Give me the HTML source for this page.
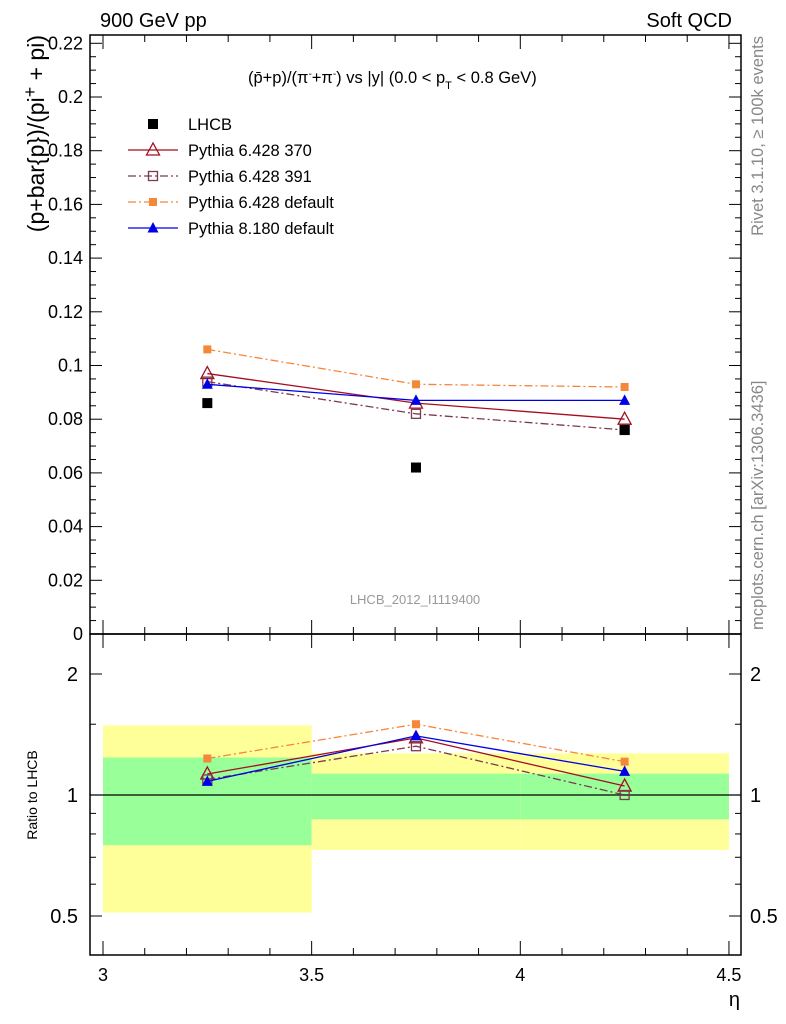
<!DOCTYPE html>
<html><head><meta charset="utf-8"><style>
body{margin:0;background:#fff;}
svg{display:block;font-family:"Liberation Sans",sans-serif;}
</style></head><body>
<svg id="c" width="786" height="1024" viewBox="0 0 786 1024" xmlns="http://www.w3.org/2000/svg"></svg>
<script>
const xVals=[3.25,3.75,4.25];
const lhcb=[0.086,0.062,0.076];
const p370=[0.097,0.086,0.080];
const p391=[0.094,0.082,0.076];
const pdef=[0.106,0.093,0.092];
const p8=[0.093,0.087,0.087];
const bandBins=[3,3.5,4,4.5];
const bandYellowLo=[0.51,0.73,0.73];
const bandYellowHi=[1.49,1.27,1.27];
const bandGreenLo=[0.75,0.87,0.87];
const bandGreenHi=[1.24,1.13,1.13];
const mainYTicks=[0,0.02,0.04,0.06,0.08,0.1,0.12,0.14,0.16,0.18,0.2,0.22];
const mainYLabels=["0","0.02","0.04","0.06","0.08","0.1","0.12","0.14","0.16","0.18","0.2","0.22"];
const xTicks=[3,3.5,4,4.5];
const xLabels=["3","3.5","4","4.5"];
const ratioTicks=[0.5,1,2];
const ratioLabels=["0.5","1","2"];

const NS="http://www.w3.org/2000/svg";
const svg=document.getElementById('c');
const L=90,R=741,T=35,MB=634,RB=955;
const X=v=>103+(v-3)*417.3;
const Y=v=>634-v*2685;
const YR=v=>795-Math.log2(v)*121;
function el(t,a,p){const e=document.createElementNS(NS,t);for(const k in a)e.setAttribute(k,a[k]);(p||svg).appendChild(e);return e;}
function txt(x,y,s,a,p){const e=el('text',Object.assign({x:x,y:y,'font-size':18,fill:'#000'},a||{}),p);e.textContent=s;return e;}

for(let i=0;i<3;i++){
 const x0=X(bandBins[i]),x1=X(bandBins[i+1]);
 const y=el('rect',{x:x0,y:YR(bandYellowHi[i]),width:x1-x0,height:YR(bandYellowLo[i])-YR(bandYellowHi[i]),fill:'#ffff99'});
 
 
 const g=el('rect',{x:x0,y:YR(bandGreenHi[i]),width:x1-x0,height:YR(bandGreenLo[i])-YR(bandGreenHi[i]),fill:'#99ff99'});
 
 
}
el('line',{x1:L,x2:R,y1:YR(1),y2:YR(1),stroke:'#000','stroke-width':1.2});

const f1=el('rect',{x:L,y:T,width:R-L,height:MB-T,fill:'none',stroke:'#000','stroke-width':1.5});

const f2=el('rect',{x:L,y:MB,width:R-L,height:RB-MB,fill:'none',stroke:'#000','stroke-width':1.5});


mainYTicks.forEach((v,i)=>{
 const y=Y(v);
 el('line',{x1:L,x2:L+12,y1:y,y2:y,stroke:'#000'});
 el('line',{x1:R,x2:R-12,y1:y,y2:y,stroke:'#000'});
 if(i<mainYTicks.length-1)for(let k=1;k<4;k++){const ym=Y(v+0.005*k);el('line',{x1:L,x2:L+6,y1:ym,y2:ym,stroke:'#000'});el('line',{x1:R,x2:R-6,y1:ym,y2:ym,stroke:'#000'});}
 const t=txt(83,y+6,mainYLabels[i],{'text-anchor':'end'});
 
});
for(let v=3;v<=4.501;v+=0.1){const x=X(v);const maj=Math.abs(v*2-Math.round(v*2))<1e-6;const l=maj?14:7;
 el('line',{x1:x,x2:x,y1:MB,y2:MB-l,stroke:'#000'});el('line',{x1:x,x2:x,y1:T,y2:T+l,stroke:'#000'});
 el('line',{x1:x,x2:x,y1:RB,y2:RB-l,stroke:'#000'});el('line',{x1:x,x2:x,y1:MB,y2:MB+l,stroke:'#000'});}
xTicks.forEach((v,i)=>{const t=txt(X(v),981,xLabels[i],{'text-anchor':'middle'});});
ratioTicks.forEach((v,i)=>{const y=YR(v);
 el('line',{x1:L,x2:L+12,y1:y,y2:y,stroke:'#000'});el('line',{x1:R,x2:R-12,y1:y,y2:y,stroke:'#000'});
 const t=txt(78,y+7,ratioLabels[i],{'text-anchor':'end','font-size':20});
 const t2=txt(750,y+7,ratioLabels[i],{'font-size':20});
});
[0.6,0.7,0.8,0.9,1.5].forEach(v=>{const y=YR(v);el('line',{x1:L,x2:L+6,y1:y,y2:y,stroke:'#000'});el('line',{x1:R,x2:R-6,y1:y,y2:y,stroke:'#000'});});

let t;
t=txt(100,27,'900 GeV pp',{'font-size':20});
t=txt(732,27,'Soft QCD',{'font-size':20,'text-anchor':'end'});
t=txt(740,1006,'η',{'font-size':20,'text-anchor':'end'});
t=el('text',{x:0,y:0,'font-size':23,fill:'#000',transform:'translate(44,35) rotate(-90)','text-anchor':'end'});

t.innerHTML='(p+bar{p})/(pi<tspan dy="-8" font-size="18">+</tspan><tspan dy="8"> + pi)</tspan>';
t=txt(0,0,'Ratio to LHCB',{'font-size':14,transform:'translate(37,795) rotate(-90)','text-anchor':'middle'});
t=txt(0,0,'Rivet 3.1.10, ≥ 100k events',{'font-size':16.5,fill:'#888',transform:'translate(763,36) rotate(-90)','text-anchor':'end'});
t=txt(0,0,'mcplots.cern.ch [arXiv:1306.3436]',{'font-size':16.5,fill:'#888',transform:'translate(763,630) rotate(-90)'});
t=txt(415,604,'LHCB_2012_I1119400',{'font-size':13,fill:'#999','text-anchor':'middle'});
t=el('text',{x:248,y:83,'font-size':16.5,fill:'#000'});
t.innerHTML='(p̄+p)/(π<tspan dy="-6" font-size="10">-</tspan><tspan dy="6">+π</tspan><tspan dy="-6" font-size="10">-</tspan><tspan dy="6">) vs |y| (0.0 &lt; p</tspan><tspan dy="6" font-size="11">T</tspan><tspan dy="-6"> &lt; 0.8 GeV)</tspan>';

function marker(kind,x,y,c,g){
 if(kind==='sq')return el('rect',{x:x-5,y:y-5,width:10,height:10,fill:c},g);
 if(kind==='osq')return el('rect',{x:x-4.5,y:y-4.5,width:9,height:9,fill:'none',stroke:c,'stroke-width':1.3},g);
 if(kind==='sqs')return el('rect',{x:x-4,y:y-4,width:8,height:8,fill:c},g);
 if(kind==='otri')return el('polygon',{points:`${x},${y-7} ${x-6.5},${y+5} ${x+6.5},${y+5}`,fill:'none',stroke:c,'stroke-width':1.3},g);
 if(kind==='tri')return el('polygon',{points:`${x},${y-6} ${x-5.5},${y+4.5} ${x+5.5},${y+4.5}`,fill:c},g);
}
const series=[
 {name:'pythia-6428-370',d:p370,c:'#a50e20',dash:'',m:'otri',lab:'Pythia 6.428 370'},
 {name:'pythia-6428-391',d:p391,c:'#7a3a52',dash:'8,3,2,3',m:'osq',lab:'Pythia 6.428 391'},
 {name:'pythia-6428-default',d:pdef,c:'#f5873a',dash:'8,3,2,3',m:'sqs',lab:'Pythia 6.428 default'},
 {name:'pythia-8180-default',d:p8,c:'#0000e6',dash:'',m:'tri',lab:'Pythia 8.180 default'}
];
series.forEach(s=>{
 const g=el('g',{});
 el('polyline',{points:xVals.map((x,i)=>X(x)+','+Y(s.d[i])).join(' '),fill:'none',stroke:s.c,'stroke-width':1.3,'stroke-dasharray':s.dash},g);
 xVals.forEach((x,i)=>marker(s.m,X(x),Y(s.d[i]),s.c,g));
 const g2=el('g',{});
 el('polyline',{points:xVals.map((x,i)=>X(x)+','+YR(s.d[i]/lhcb[i])).join(' '),fill:'none',stroke:s.c,'stroke-width':1.3,'stroke-dasharray':s.dash},g2);
 xVals.forEach((x,i)=>marker(s.m,X(x),YR(s.d[i]/lhcb[i]),s.c,g2));
});
const gd=el('g',{});
xVals.forEach((x,i)=>marker('sq',X(x),Y(lhcb[i]),'#000',gd));

const lg=el('g',{});
let ly=124;
marker('sq',153,ly,'#000',lg);
t=txt(188,ly+6,'LHCB',{'font-size':16.5},lg);
series.forEach((s,i)=>{const y=ly+26*(i+1);
 el('line',{x1:128,x2:178,y1:y,y2:y,stroke:s.c,'stroke-width':1.3,'stroke-dasharray':s.dash},lg);
 marker(s.m,153,y,s.c,lg);
 const tt=txt(188,y+6,s.lab,{'font-size':16.5},lg);
});
</script>
</body></html>
